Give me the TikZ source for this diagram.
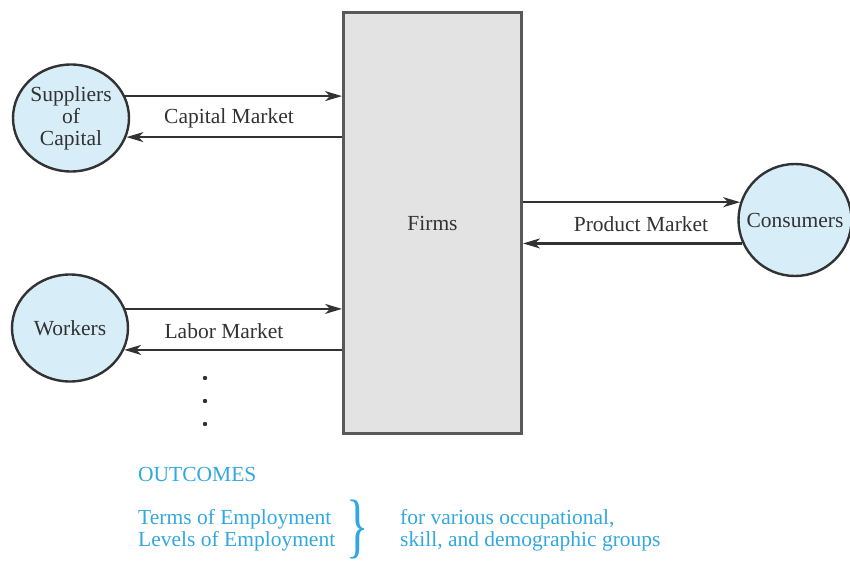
\documentclass[tikz,border=0pt]{standalone}
\usepackage{fontspec}
\setmainfont{Liberation Serif}
\usetikzlibrary{%
  arrows.meta,%
  shapes.geometric
}
\definecolor{mktgray}{RGB}{50,50,50}
\definecolor{agentblue}{RGB}{215,237,247}
\definecolor{firmgray}{RGB}{227,227,227}
\definecolor{outblue}{RGB}{50,168,222}

\begin{document}
\begin{tikzpicture}[x=1pt,y=-1pt,
    every node/.style={font=\fontsize{21.5}{22}\selectfont,text=mktgray},
    agent/.style={ellipse,draw=mktgray,line width=2.4pt,fill=agentblue,
      minimum width=116pt,minimum height=107pt,inner sep=0pt,align=center},
    flow/.style={-{Stealth[length=17pt,width=10pt,inset=5pt]},line width=2.2pt,
      draw=mktgray},
    outcome/.style={text=outblue,anchor=west,inner sep=0pt}]
  \useasboundingbox (0,0) rectangle (850,561);
  \node [draw=black!65,line width=3pt,fill=firmgray,minimum width=178pt,
         minimum height=421pt] (firms) at (432.5,223) {Firms};
  \node [agent] (sup) at (71,118)
    {\fontsize{21.5}{21}\selectfont Suppliers\\of\\Capital};
  \node [agent] (work) at (70,328) {Workers};
  \node [agent,minimum width=113pt,minimum height=112pt,inner xsep=-14pt]
    (cons) at (795,220) {Consumers};
  % capital market
  \draw [flow] (sup.22) -- (sup.22 -| firms.west);
  \draw [flow] (firms.west |- sup.-19) -- (sup.-19);
  \node (capital) at (229,118) {Capital Market};
  % labor market
  \draw [flow] (work.19) -- (work.19 -| firms.west);
  \draw [flow] (firms.west |- work.-22) -- (work.-22);
  \node (labor) at (224,331) {Labor Market};
  % product market
  \draw [flow] (firms.east |- cons.162) -- (cons.162);
  \draw [flow] (cons.204) -- (cons.204 -| firms.east);
  \node (product) at (641,224) {Product Market};
  \foreach \y in {378,401,424}
    \fill [mktgray] (205,\y) circle (2.2pt);
  % outcomes
  \node [outcome] (outc) at (138,474) {OUTCOMES};
  \node [outcome] (terms) at (138,519) {Terms of Employment};
  \node [outcome] (levels) at (138,541) {Levels of Employment};
  \node [text=outblue,inner sep=0pt] (brace) at (358,530)
    {\scalebox{0.75}[1.15]{\fontsize{62}{62}\selectfont\}}};
  \node [outcome] (various) at (400,519) {for various occupational,};
  \node [outcome] (groups) at (400,541) {skill, and demographic groups};
\end{tikzpicture}
\end{document}
